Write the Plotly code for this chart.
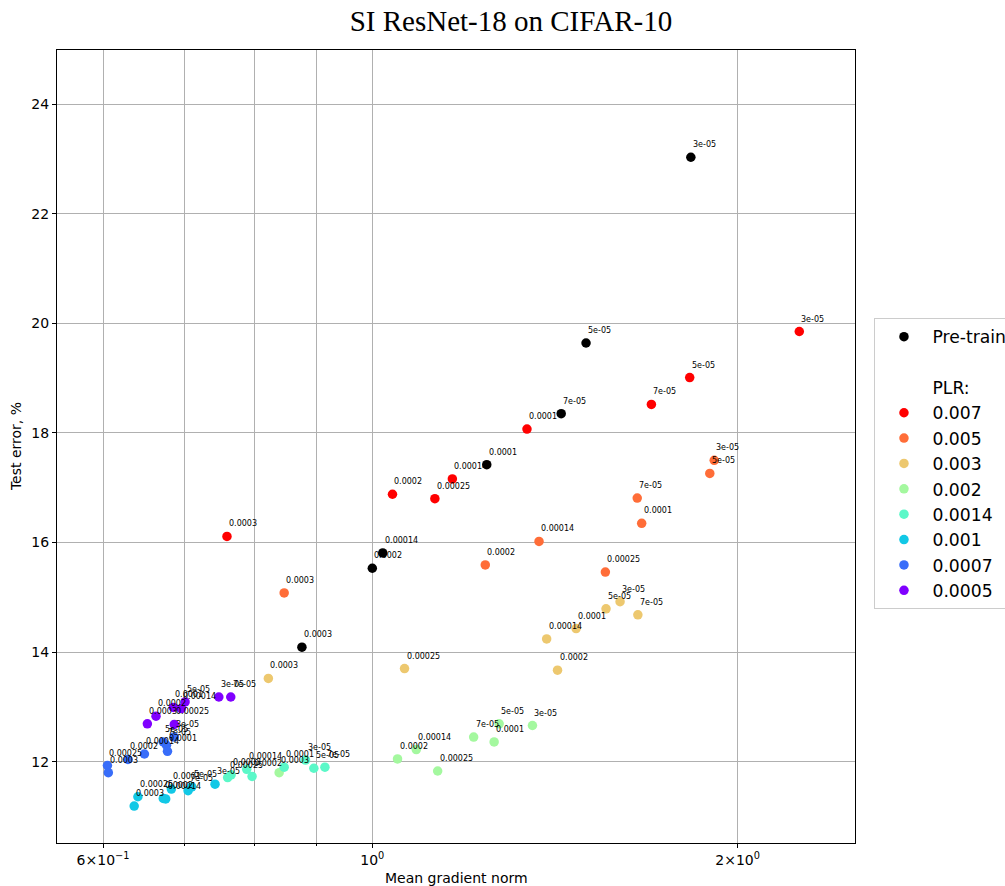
import numpy as np
import plotly.graph_objects as go

# ---------------- data ----------------
plr_values = ["0.007", "0.005", "0.003", "0.002", "0.0014", "0.001", "0.0007", "0.0005"]
plr_colors = ["#ff0000", "#ff6d38", "#edc86f", "#a4f89f", "#5bf8c8", "#12c8e6", "#386df9", "#8000ff"]

pretrain_lr = ["3e-05", "5e-05", "7e-05", "0.0001", "0.00014", "0.0002", "0.0003"]
pretrain_norm = [1.830, 1.500, 1.431, 1.2425, 1.020, 1.000, 0.875]
pretrain_err = [23.03, 19.64, 18.35, 17.42, 15.81, 15.53, 14.09]

ft_lr = ["3e-05", "5e-05", "7e-05", "0.0001", "0.00014", "0.0002", "0.00025", "0.0003"]

norm_0007 = [2.248, 1.826, 1.698, 1.341, 1.164, 1.039, 1.126, 0.759]
err_0007 = [19.85, 19.01, 18.52, 18.07, 17.16, 16.88, 16.80, 16.11]

norm_0005 = [1.913, 1.897, 1.653, 1.667, 1.372, 1.239, 1.556, 0.846]
err_0005 = [17.50, 17.26, 16.81, 16.35, 16.02, 15.59, 15.46, 15.08]

norm_0003 = [1.600, 1.558, 1.655, 1.472, 1.392, 1.421, 1.063, 0.821]
err_0003 = [14.92, 14.79, 14.68, 14.43, 14.24, 13.67, 13.70, 13.52]

norm_0002 = [1.355, 1.272, 1.212, 1.260, 1.087, 1.049, 1.132, 0.838]
err_0002 = [12.66, 12.69, 12.45, 12.36, 12.22, 12.05, 11.83, 11.80]

norm_00014 = [0.881, 0.895, 0.914, 0.846, 0.788, 0.796, 0.760, 0.765]
err_00014 = [12.03, 11.88, 11.90, 11.90, 11.86, 11.73, 11.71, 11.76]

norm_0001 = [0.742, 0.710, 0.705, 0.683, 0.6757, 0.6726, 0.641, 0.6365]
err_0001 = [11.59, 11.54, 11.47, 11.50, 11.32, 11.33, 11.36, 11.19]

norm_00007 = [0.6866, 0.6726, 0.6767, 0.678, 0.649, 0.629, 0.605, 0.606]
err_00007 = [12.45, 12.36, 12.30, 12.19, 12.14, 12.04, 11.93, 11.80]

norm_00005 = [0.7474, 0.701, 0.7645, 0.6856, 0.696, 0.6634, 0.6868, 0.6526]
err_00005 = [13.18, 13.09, 13.18, 12.99, 12.97, 12.83, 12.68, 12.69]

series_norms = [norm_0007, norm_0005, norm_0003, norm_0002, norm_00014, norm_0001, norm_00007, norm_00005]
series_errs = [err_0007, err_0005, err_0003, err_0002, err_00014, err_0001, err_00007, err_00005]

x_tickvals = [0.6, 1.0, 2.0]
x_ticktext = ["6\u00d710<sup>\u22121</sup>", "10<sup>0</sup>", "2\u00d710<sup>0</sup>"]
x_minor_vals = [0.7, 0.8, 0.9]
y_tickvals = [12, 14, 16, 18, 20, 22, 24]

# ---------------- figure ----------------
FONT = "DejaVu Sans"
MS = 9.5
fig = go.Figure()

fig.add_trace(go.Scatter(x=pretrain_norm, y=pretrain_err, mode="markers", name="Pre-train",
                         marker=dict(color="black", size=MS, line=dict(width=0))))
fig.add_trace(go.Scatter(x=[None], y=[None], mode="markers", name=" ",
                         marker=dict(color="rgba(0,0,0,0)", size=MS)))
fig.add_trace(go.Scatter(x=[None], y=[None], mode="markers", name="PLR:",
                         marker=dict(color="rgba(0,0,0,0)", size=MS)))
for name, col, xs, ys in zip(plr_values, plr_colors, series_norms, series_errs):
    fig.add_trace(go.Scatter(x=xs, y=ys, mode="markers", name=name,
                             marker=dict(color=col, size=MS, line=dict(width=0))))

annotations = []
def add_labels(xs, ys, labels):
    for xv, yv, t in zip(xs, ys, labels):
        annotations.append(dict(x=np.log10(xv), y=yv, xref="x", yref="y", text=t,
                                showarrow=False, xanchor="left", yanchor="bottom",
                                xshift=0, yshift=6,
                                font=dict(family=FONT, size=8, color="black")))

add_labels(pretrain_norm, pretrain_err, pretrain_lr)
for xs, ys in zip(series_norms, series_errs):
    add_labels(xs, ys, ft_lr)

W, H = 1005, 886
L, R, T, B = 56.5, 1005 - 855.5, 50, 886 - 843
PW, PH = W - L - R, H - T - B

annotations.append(dict(text="Mean gradient norm", x=0.5, y=-(878 - 843) / PH, xref="paper", yref="paper",
                        xanchor="center", yanchor="middle", showarrow=False,
                        font=dict(family=FONT, size=14, color="black")))
annotations.append(dict(text="Test error, %", x=(15 - L) / PW, y=0.5, xref="paper", yref="paper",
                        xanchor="center", yanchor="middle", textangle=-90, showarrow=False,
                        font=dict(family=FONT, size=14, color="black")))

fig.update_layout(
    width=W, height=H,
    margin=dict(l=L, r=R, t=T, b=B, autoexpand=False),
    paper_bgcolor="white", plot_bgcolor="white",
    font=dict(family=FONT, size=14, color="black"),
    title=dict(text="SI ResNet-18 on CIFAR-10", x=(511 - L) / PW, xref="paper", xanchor="center",
               y=1 - 21 / H, yref="container", yanchor="middle",
               font=dict(family="Liberation Serif", size=29, color="black")),
    showlegend=True,
    legend=dict(x=(875 - L) / PW, xanchor="left", y=(843 - 318) / PH, yanchor="top",
                bgcolor="white", bordercolor="#cccccc", borderwidth=1,
                font=dict(family=FONT, size=17.2, color="black"),
                itemwidth=47, tracegroupgap=0),
    annotations=annotations,
)

fig.update_xaxes(type="log", range=[-0.2598, 0.3977],
                 tickvals=x_tickvals, ticktext=x_ticktext,
                 ticks="outside", ticklen=4, tickcolor="black", tickwidth=1,
                 showgrid=True, gridcolor="#b0b0b0", gridwidth=1,
                 showline=True, linecolor="black", linewidth=1, mirror=True,
                 zeroline=False, automargin=False,
                 minor=dict(tickvals=x_minor_vals, ticks="outside", ticklen=2,
                            tickcolor="black", showgrid=True, gridcolor="#b0b0b0", gridwidth=1),
                 tickfont=dict(family=FONT, size=14))
fig.update_yaxes(range=[10.516, 24.987], tickvals=y_tickvals,
                 ticks="outside", ticklen=4, tickcolor="black", tickwidth=1,
                 showgrid=True, gridcolor="#b0b0b0", gridwidth=1,
                 showline=True, linecolor="black", linewidth=1, mirror=True,
                 zeroline=False, automargin=False,
                 tickfont=dict(family=FONT, size=14))

fig.write_html("out.html")
